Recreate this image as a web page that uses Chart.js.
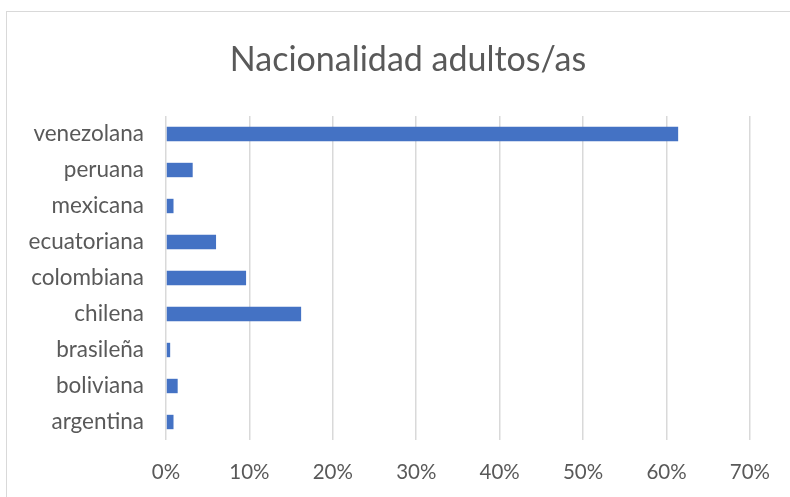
<!DOCTYPE html>
<html>
<head>
<meta charset="utf-8">
<script src="https://cdn.jsdelivr.net/npm/chart.js@4"></script>
<style>
  html, body { margin: 0; padding: 0; background: #fff; }
  #wrap { position: relative; width: 790px; height: 497px; overflow: hidden; }
  #frame { position: absolute; left: 6px; top: 11px; width: 800px; height: 500px; border: 1px solid #d9d9d9; box-sizing: border-box; }
  canvas { position: absolute; left: 0; top: 0; }
</style>
</head>
<body>
<div id="wrap">
  <div id="frame"></div>
  <canvas id="c" width="790" height="497"></canvas>
</div>
<script>
const categories = ["venezolana", "peruana", "mexicana", "ecuatoriana", "colombiana", "chilena", "brasileña", "boliviana", "argentina"];
const values = [61.4, 3.2, 0.9, 6.0, 9.6, 16.2, 0.5, 1.4, 0.9];
const xTicks = [0, 10, 20, 30, 40, 50, 60, 70];
const titleText = "Nacionalidad adultos/as";

const FONT = "Lato, 'Open Sans', sans-serif";

// Title centred over the full (wider, cropped) Excel chart frame
const titlePlugin = {
  id: 'frameTitle',
  afterDraw(chart) {
    const c = chart.ctx;
    c.save();
    c.font = "normal 34px " + FONT;
    c.fillStyle = '#595959';
    c.textAlign = 'center';
    c.textBaseline = 'middle';
    c.fillText(titleText, 408, 60);
    c.restore();
  }
};

const ctx = document.getElementById('c');
new Chart(ctx, {
  type: 'bar',
  data: {
    labels: categories,
    datasets: [{
      data: values,
      backgroundColor: '#4472C4',
      borderWidth: 0,
      barPercentage: 0.4,
      categoryPercentage: 1.0
    }]
  },
  plugins: [titlePlugin],
  options: {
    indexAxis: 'y',
    responsive: false,
    animation: false,
    devicePixelRatio: 1,
    layout: { padding: { left: 0, right: 38, top: 116, bottom: 0 } },
    plugins: {
      legend: { display: false },
      tooltip: { enabled: false },
      title: { display: false }
    },
    scales: {
      x: {
        min: 0, max: 70,
        afterBuildTicks: (s) => { s.ticks = xTicks.map(v => ({ value: v })); },
        afterFit: (s) => { s.height = 57; },
        grid: { color: '#d9d9d9', lineWidth: 1.5, drawTicks: false },
        border: { display: false },
        ticks: {
          color: '#595959',
          padding: 20,
          font: { family: FONT, size: 20.5 },
          callback: (v) => v + '%'
        }
      },
      y: {
        afterFit: (s) => { s.width = 166; },
        grid: { display: false, drawTicks: false },
        border: { display: false },
        ticks: {
          color: '#595959',
          padding: 22,
          font: { family: FONT, size: 22.5 }
        }
      }
    }
  }
});
</script>
</body>
</html>
